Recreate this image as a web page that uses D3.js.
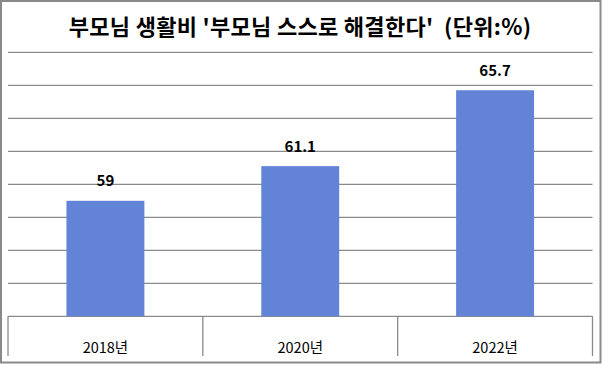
<!DOCTYPE html>
<html><head><meta charset="utf-8">
<script src="https://cdn.jsdelivr.net/npm/d3@7"></script>
<style>body{margin:0;background:#fff}svg{display:block}</style>
</head><body>
<svg id="c" width="602" height="365"></svg>
<script>
const title = "부모님 생활비 '부모님 스스로 해결한다'  (단위:%)";
const categories = ["2018년", "2020년", "2022년"];
const values = [59, 61.1, 65.7];
const valueLabels = ["59", "61.1", "65.7"];
const yTicks = [52, 54, 56, 58, 60, 62, 64, 66, 68];

const svg = d3.select("#c");
const W = 602, H = 365;
const m = {left: 8, right: 592.5, top: 52.3, bottom: 316.3};
const gray = "#8a8a8a";
const barColor = "#6283d6";
const font = "'Noto Sans CJK KR', 'Noto Sans', sans-serif";

svg.append("rect").attr("width", W).attr("height", H).attr("fill", "#fff");

const x = d3.scaleBand().domain(categories).range([m.left, m.right]).paddingInner(0).paddingOuter(0);
const y = d3.scaleLinear().domain([52, 68]).range([m.bottom, m.top]);

// gridlines
svg.append("g").selectAll("line").data(yTicks.slice(1)).join("line")
  .attr("x1", m.left).attr("x2", m.right)
  .attr("y1", d => y(d)).attr("y2", d => y(d))
  .attr("stroke", gray).attr("stroke-width", 1.3);

// axis line + dividers
svg.append("line").attr("x1", m.left).attr("x2", m.right)
  .attr("y1", y(52)).attr("y2", y(52)).attr("stroke", gray).attr("stroke-width", 1.3);
const divs = [m.left, ...categories.map(c => x(c) + x.bandwidth())];
svg.append("g").selectAll("line").data(divs).join("line")
  .attr("x1", d => d).attr("x2", d => d)
  .attr("y1", y(52)).attr("y2", 356)
  .attr("stroke", gray).attr("stroke-width", 1.3);

// bars
const bw = x.bandwidth() * 0.4;
svg.append("g").selectAll("rect").data(values).join("rect")
  .attr("x", (d, i) => x(categories[i]) + (x.bandwidth() - bw) / 2)
  .attr("width", bw)
  .attr("y", d => y(d))
  .attr("height", d => y(52) - y(d))
  .attr("fill", barColor);

// value labels
svg.append("g").selectAll("text").data(values).join("text")
  .attr("x", (d, i) => x(categories[i]) + x.bandwidth() / 2)
  .attr("y", d => y(d) - 14.5)
  .attr("text-anchor", "middle")
  .attr("font-family", font).attr("font-weight", "bold").attr("font-size", 15)
  .attr("fill", "#000")
  .text((d, i) => valueLabels[i]);

// category labels
svg.append("g").selectAll("text").data(categories).join("text")
  .attr("x", d => x(d) + x.bandwidth() / 2)
  .attr("y", 353)
  .attr("text-anchor", "middle")
  .attr("font-family", font).attr("font-size", 14.5)
  .attr("fill", "#000")
  .text(d => d);

// title
svg.append("text").attr("x", 300).attr("y", 35)
  .attr("text-anchor", "middle")
  .attr("font-family", font).attr("font-weight", "bold").attr("font-size", 22)
  .attr("letter-spacing", 0.3)
  .attr("fill", "#000")
  .style("white-space", "pre")
  .attr("xml:space", "preserve")
  .text(title);

// outer border
svg.append("rect").attr("x", 1).attr("y", 1).attr("width", 599.5).attr("height", 361.5)
  .attr("fill", "none").attr("stroke", gray).attr("stroke-width", 2);
</script>
</body></html>
